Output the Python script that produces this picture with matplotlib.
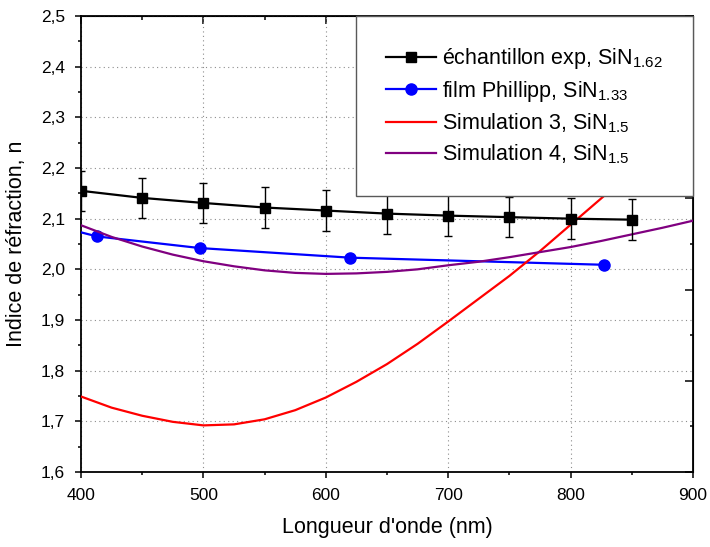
import matplotlib
matplotlib.use("Agg")
import matplotlib.pyplot as plt
from matplotlib.ticker import MultipleLocator, FuncFormatter
from matplotlib.lines import Line2D

plt.rcParams['font.family'] = ['Liberation Sans', 'DejaVu Sans']
plt.rcParams['mathtext.default'] = 'regular'

# --- data ---
exp_x = [400, 450, 500, 550, 600, 650, 700, 750, 800, 850]
exp_y = [2.155, 2.141, 2.131, 2.122, 2.116, 2.110, 2.106, 2.103, 2.100, 2.098]
exp_err = [0.04, 0.04, 0.04, 0.04, 0.04, 0.04, 0.04, 0.04, 0.04, 0.04]

phil_x = [400, 413, 497, 620, 827]
phil_y = [2.073, 2.065, 2.042, 2.023, 2.009]

sim_x = [400, 425, 450, 475, 500, 525, 550, 575, 600, 625, 650, 675, 700,
         725, 750, 775, 800, 825, 850, 875, 900]
sim3_y = [1.749, 1.727, 1.711, 1.699, 1.692, 1.694, 1.704, 1.722, 1.747, 1.778,
          1.813, 1.853, 1.897, 1.942, 1.987, 2.036, 2.088, 2.140, 2.192, 2.246, 2.300]
sim4_y = [2.087, 2.064, 2.045, 2.029, 2.016, 2.006, 1.998, 1.993, 1.991, 1.992,
          1.995, 2.000, 2.008, 2.015, 2.024, 2.034, 2.044, 2.056, 2.069, 2.082, 2.096]

labels = ['échantillon exp, SiN$_{1.62}$',
          'film Phillipp, SiN$_{1.33}$',
          'Simulation 3, SiN$_{1.5}$',
          'Simulation 4, SiN$_{1.5}$']
colors = ['black', '#0000FF', '#FF0000', '#800080']

fig = plt.figure(figsize=(7.10, 5.47), dpi=100)
ax = fig.add_axes([81/710, 75/547, 612/710, 456/547])

ax.errorbar(exp_x, exp_y, yerr=exp_err, fmt='-s', color=colors[0], ms=7, lw=1.6,
            elinewidth=1, capsize=3, capthick=1, zorder=4)
ax.plot(phil_x, phil_y, '-o', color=colors[1], ms=8, lw=1.6, markevery=[1, 2, 3, 4],
        zorder=3)
ax.plot(sim_x, sim3_y, '-', color=colors[2], lw=1.6, zorder=3)
ax.plot(sim_x, sim4_y, '-', color=colors[3], lw=1.6, zorder=3)

ax.set_xlim(400, 900)
ax.set_ylim(1.6, 2.5)
ax.xaxis.set_major_locator(MultipleLocator(100))
ax.xaxis.set_minor_locator(MultipleLocator(50))
ax.yaxis.set_major_locator(MultipleLocator(0.1))
ax.yaxis.set_minor_locator(MultipleLocator(0.05))
ax.yaxis.set_major_formatter(FuncFormatter(lambda v, p: f"{v:.1f}".replace('.', ',')))

ax.grid(True, which='major', color='0.55', linestyle=(0, (1, 3)), linewidth=0.8)
ax.set_axisbelow(True)

for s in ax.spines.values():
    s.set_linewidth(1.3)
ax.tick_params(which='both', direction='out', width=1.1, labelsize=12.5,
               top=False, right=False, pad=7)
ax.tick_params(which='major', length=4.5)
ax.tick_params(which='minor', length=2.5)

ax.set_xlabel("Longueur d'onde (nm)", fontsize=15.5, labelpad=10)
ax.set_ylabel("Indice de réfraction, n", fontsize=15.5, labelpad=10)

# top axis: inward ticks, no labels
top = ax.secondary_xaxis('top')
top.xaxis.set_major_locator(MultipleLocator(100))
top.xaxis.set_minor_locator(MultipleLocator(50))
top.tick_params(which='both', direction='in', width=1.1, labeltop=False)
top.tick_params(which='major', length=5.5)
top.tick_params(which='minor', length=3)

# right axis: inward ticks, no labels (10 equal divisions)
right = ax.secondary_yaxis('right', functions=(lambda y: (y - 1.6) / 0.09,
                                               lambda t: 1.6 + t * 0.09))
right.yaxis.set_major_locator(MultipleLocator(2))
right.yaxis.set_minor_locator(MultipleLocator(1))
right.tick_params(which='both', direction='in', width=1.1, labelright=False)
right.tick_params(which='major', length=5.5)
right.tick_params(which='minor', length=2.5)

handles = [
    Line2D([], [], color=colors[0], marker='s', ms=7, lw=1.6),
    Line2D([], [], color=colors[1], marker='o', ms=8, lw=1.6),
    Line2D([], [], color=colors[2], lw=1.6),
    Line2D([], [], color=colors[3], lw=1.6),
]
leg = ax.legend(handles, labels, loc='upper right', bbox_to_anchor=(1, 1),
                borderaxespad=0, fontsize=15.5, frameon=True, fancybox=False,
                framealpha=1, borderpad=1.4, handlelength=2.3, handletextpad=0.3,
                labelspacing=0.35)
leg.get_frame().set_edgecolor('0.35')
leg.get_frame().set_linewidth(1.0)
leg.set_zorder(10)

fig.savefig('out.png', dpi=100)
